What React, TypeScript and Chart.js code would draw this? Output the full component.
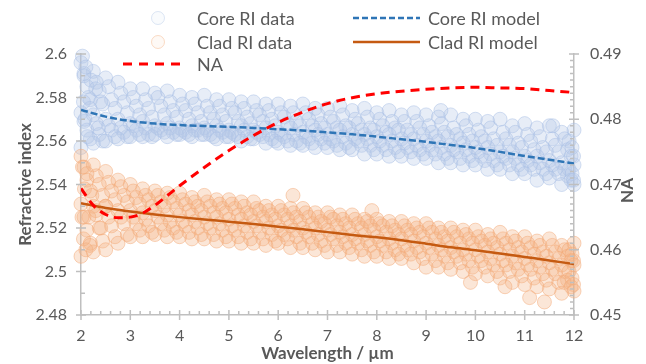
import React, { useEffect, useRef } from "react";
import { Chart, registerables } from "chart.js";
Chart.register(...registerables);

// Wavelength columns (µm) for scatter samples
const wl = [2, 2.25, 2.5, 2.75, 3, 3.25, 3.5, 3.75, 4, 4.25, 4.5, 4.75, 5, 5.25, 5.5, 5.75, 6, 6.25, 6.5, 6.75, 7, 7.25, 7.5, 7.75, 8, 8.25, 8.5, 8.75, 9, 9.25, 9.5, 9.75, 10, 10.25, 10.5, 10.75, 11, 11.25, 11.5, 11.75, 12];
const wlB = [2.12, 2.37, 2.62, 2.87, 3.12, 3.37, 3.62, 3.87, 4.12, 4.37, 4.62, 4.87, 5.12, 5.37, 5.62, 5.87, 6.12, 6.37, 6.62, 6.87, 7.12, 7.37, 7.62, 7.87, 8.12, 8.37, 8.62, 8.87, 9.12, 9.37, 9.62, 9.87, 10.12, 10.37, 10.62, 10.87, 11.12, 11.37, 11.62, 11.87, 11.96];
const wlC = [2.06, 2.31, 2.56, 2.81, 3.06, 3.31, 3.56, 3.81, 4.06, 4.31, 4.56, 4.81, 5.06, 5.31, 5.56, 5.81, 6.06, 6.31, 6.56, 6.81, 7.06, 7.31, 7.56, 7.81, 8.06, 8.31, 8.56, 8.81, 9.06, 9.31, 9.56, 9.81, 10.06, 10.31, 10.56, 10.81, 11.06, 11.31, 11.56, 11.81, 11.9];
const wlD = [2.19, 2.44, 2.69, 2.94, 3.19, 3.44, 3.69, 3.94, 4.19, 4.44, 4.69, 4.94, 5.19, 5.44, 5.69, 5.94, 6.19, 6.44, 6.69, 6.94, 7.19, 7.44, 7.69, 7.94, 8.19, 8.44, 8.69, 8.94, 9.19, 9.44, 9.69, 9.94, 10.19, 10.44, 10.69, 10.94, 11.19, 11.44, 11.69, 11.94, 11.99];

// Core RI data (sampled from the cloud, top row to bottom row)
const coreA = [2.596, 2.592, 2.589, 2.587, 2.584, 2.584, 2.582, 2.583, 2.581, 2.580, 2.581, 2.579, 2.579, 2.578, 2.578, 2.577, 2.577, 2.576, 2.577, 2.575, 2.575, 2.576, 2.574, 2.575, 2.573, 2.574, 2.572, 2.573, 2.572, 2.571, 2.572, 2.570, 2.570, 2.569, 2.570, 2.567, 2.568, 2.566, 2.567, 2.564, 2.565];
const coreAB = [2.591, 2.587, 2.585, 2.582, 2.580, 2.579, 2.580, 2.578, 2.577, 2.577, 2.576, 2.576, 2.575, 2.575, 2.574, 2.574, 2.573, 2.573, 2.573, 2.572, 2.571, 2.572, 2.570, 2.571, 2.570, 2.569, 2.569, 2.569, 2.567, 2.568, 2.566, 2.567, 2.565, 2.566, 2.564, 2.564, 2.563, 2.562, 2.561, 2.561, 2.560];
const coreB = [2.585, 2.583, 2.579, 2.578, 2.576, 2.575, 2.576, 2.574, 2.574, 2.573, 2.573, 2.572, 2.573, 2.571, 2.572, 2.570, 2.571, 2.569, 2.570, 2.568, 2.569, 2.567, 2.568, 2.566, 2.567, 2.566, 2.565, 2.566, 2.564, 2.564, 2.563, 2.563, 2.562, 2.561, 2.561, 2.559, 2.560, 2.557, 2.558, 2.556, 2.557];
const coreBC = [2.579, 2.577, 2.575, 2.573, 2.572, 2.571, 2.572, 2.571, 2.570, 2.569, 2.570, 2.569, 2.569, 2.568, 2.569, 2.567, 2.568, 2.567, 2.567, 2.566, 2.566, 2.566, 2.565, 2.565, 2.564, 2.565, 2.563, 2.563, 2.562, 2.562, 2.561, 2.560, 2.560, 2.558, 2.558, 2.557, 2.556, 2.555, 2.555, 2.553, 2.553];
const coreC = [2.573, 2.572, 2.570, 2.570, 2.568, 2.569, 2.567, 2.568, 2.566, 2.567, 2.566, 2.567, 2.565, 2.567, 2.565, 2.566, 2.564, 2.566, 2.564, 2.565, 2.563, 2.565, 2.563, 2.563, 2.562, 2.563, 2.561, 2.561, 2.560, 2.560, 2.558, 2.559, 2.557, 2.557, 2.555, 2.555, 2.553, 2.553, 2.551, 2.550, 2.549];
const coreCD = [2.569, 2.568, 2.567, 2.566, 2.567, 2.566, 2.566, 2.566, 2.565, 2.565, 2.565, 2.565, 2.564, 2.565, 2.564, 2.563, 2.563, 2.563, 2.562, 2.563, 2.561, 2.562, 2.561, 2.561, 2.560, 2.560, 2.559, 2.558, 2.558, 2.557, 2.556, 2.556, 2.555, 2.554, 2.553, 2.552, 2.551, 2.550, 2.549, 2.547, 2.547];
const coreD = [2.565, 2.563, 2.565, 2.564, 2.565, 2.563, 2.565, 2.564, 2.564, 2.565, 2.563, 2.564, 2.563, 2.562, 2.563, 2.561, 2.562, 2.560, 2.561, 2.561, 2.560, 2.559, 2.560, 2.558, 2.558, 2.557, 2.557, 2.556, 2.556, 2.554, 2.555, 2.553, 2.553, 2.551, 2.552, 2.549, 2.549, 2.547, 2.547, 2.544, 2.545];
const coreDE = [2.561, 2.560, 2.562, 2.562, 2.563, 2.562, 2.564, 2.563, 2.563, 2.563, 2.562, 2.562, 2.562, 2.561, 2.562, 2.560, 2.560, 2.559, 2.559, 2.559, 2.558, 2.557, 2.558, 2.556, 2.556, 2.555, 2.555, 2.554, 2.554, 2.552, 2.552, 2.551, 2.551, 2.549, 2.549, 2.547, 2.547, 2.545, 2.545, 2.542, 2.542];
const coreE = [2.557, 2.559, 2.560, 2.561, 2.562, 2.562, 2.563, 2.562, 2.563, 2.562, 2.563, 2.561, 2.562, 2.560, 2.561, 2.559, 2.559, 2.558, 2.558, 2.557, 2.557, 2.556, 2.556, 2.554, 2.554, 2.553, 2.553, 2.552, 2.552, 2.550, 2.550, 2.549, 2.549, 2.547, 2.547, 2.545, 2.545, 2.542, 2.543, 2.540, 2.540];
const coreExtraX = [2.03, 2.06, 2.1, 2.15, 2.2, 2.08, 2.13, 2.3, 2.4, 2.05, 2.18, 2.35, 9.3, 11.57];
const coreExtraY = [2.599, 2.590, 2.594, 2.580, 2.588, 2.570, 2.562, 2.584, 2.578, 2.578, 2.575, 2.566, 2.574, 2.567];

// Clad RI data (sampled from the cloud, top row to bottom row)
const cladA = [2.553, 2.549, 2.546, 2.542, 2.540, 2.538, 2.537, 2.536, 2.536, 2.534, 2.535, 2.533, 2.533, 2.532, 2.532, 2.530, 2.530, 2.529, 2.529, 2.527, 2.527, 2.526, 2.526, 2.524, 2.524, 2.523, 2.523, 2.522, 2.522, 2.520, 2.520, 2.519, 2.519, 2.517, 2.518, 2.516, 2.516, 2.514, 2.515, 2.512, 2.513];
const cladAB = [2.548, 2.544, 2.541, 2.539, 2.537, 2.535, 2.535, 2.534, 2.533, 2.532, 2.532, 2.531, 2.531, 2.530, 2.529, 2.528, 2.528, 2.527, 2.527, 2.525, 2.525, 2.524, 2.524, 2.523, 2.522, 2.521, 2.521, 2.520, 2.520, 2.518, 2.518, 2.517, 2.516, 2.515, 2.515, 2.514, 2.513, 2.512, 2.512, 2.510, 2.510];
const cladB = [2.542, 2.540, 2.537, 2.535, 2.534, 2.533, 2.532, 2.532, 2.531, 2.530, 2.530, 2.529, 2.529, 2.527, 2.528, 2.526, 2.526, 2.525, 2.525, 2.523, 2.524, 2.522, 2.522, 2.521, 2.521, 2.519, 2.519, 2.518, 2.518, 2.516, 2.516, 2.515, 2.514, 2.513, 2.513, 2.511, 2.511, 2.509, 2.509, 2.507, 2.508];
const cladBC = [2.537, 2.535, 2.533, 2.532, 2.531, 2.530, 2.530, 2.529, 2.528, 2.528, 2.527, 2.527, 2.526, 2.526, 2.525, 2.524, 2.524, 2.523, 2.522, 2.522, 2.521, 2.520, 2.520, 2.519, 2.518, 2.517, 2.517, 2.516, 2.515, 2.514, 2.513, 2.513, 2.512, 2.511, 2.510, 2.509, 2.508, 2.507, 2.506, 2.505, 2.505];
const cladC = [2.531, 2.530, 2.530, 2.528, 2.528, 2.527, 2.528, 2.526, 2.526, 2.526, 2.525, 2.525, 2.524, 2.524, 2.523, 2.523, 2.521, 2.521, 2.520, 2.520, 2.519, 2.518, 2.517, 2.517, 2.516, 2.515, 2.515, 2.514, 2.513, 2.512, 2.511, 2.510, 2.510, 2.509, 2.508, 2.507, 2.506, 2.505, 2.504, 2.503, 2.503];
const cladCD = [2.525, 2.526, 2.525, 2.525, 2.525, 2.524, 2.525, 2.523, 2.523, 2.523, 2.522, 2.522, 2.521, 2.521, 2.521, 2.520, 2.519, 2.519, 2.518, 2.517, 2.517, 2.516, 2.515, 2.514, 2.514, 2.513, 2.512, 2.511, 2.511, 2.510, 2.509, 2.508, 2.507, 2.506, 2.505, 2.504, 2.503, 2.502, 2.501, 2.500, 2.500];
const cladD = [2.519, 2.520, 2.521, 2.522, 2.522, 2.521, 2.522, 2.520, 2.521, 2.520, 2.520, 2.519, 2.519, 2.518, 2.518, 2.517, 2.517, 2.516, 2.516, 2.514, 2.515, 2.513, 2.513, 2.512, 2.512, 2.510, 2.510, 2.509, 2.508, 2.507, 2.507, 2.505, 2.505, 2.503, 2.503, 2.501, 2.501, 2.499, 2.499, 2.496, 2.497];
const cladDE = [2.513, 2.514, 2.516, 2.517, 2.519, 2.518, 2.519, 2.518, 2.518, 2.517, 2.517, 2.516, 2.516, 2.515, 2.515, 2.514, 2.515, 2.513, 2.513, 2.512, 2.512, 2.511, 2.510, 2.509, 2.509, 2.508, 2.508, 2.506, 2.505, 2.504, 2.504, 2.502, 2.502, 2.500, 2.500, 2.498, 2.497, 2.496, 2.495, 2.493, 2.494];
const cladE = [2.507, 2.509, 2.510, 2.513, 2.516, 2.516, 2.517, 2.516, 2.516, 2.515, 2.515, 2.514, 2.514, 2.513, 2.513, 2.512, 2.513, 2.511, 2.511, 2.510, 2.509, 2.509, 2.508, 2.507, 2.507, 2.506, 2.506, 2.504, 2.502, 2.502, 2.501, 2.500, 2.499, 2.498, 2.497, 2.495, 2.494, 2.493, 2.492, 2.490, 2.491];
const cladExtraX = [2.03, 2.07, 2.12, 2.16, 2.22, 2.05, 2.1, 2.3, 2.4, 2.02, 2.18, 2.5, 9.9, 10.6, 11.1, 11.4, 11.8, 6.3, 7.9];
const cladExtraY = [2.548, 2.538, 2.545, 2.525, 2.535, 2.515, 2.510, 2.528, 2.520, 2.525, 2.512, 2.530, 2.495, 2.493, 2.488, 2.486, 2.495, 2.535, 2.528];

// Model curves
const modelX = [2, 2.5, 3, 3.5, 4, 4.5, 5, 5.5, 6, 6.5, 7, 7.5, 8, 8.5, 9, 9.5, 10, 10.5, 11, 11.5, 12];
const coreModel = [2.5743, 2.5712, 2.5692, 2.5680, 2.5673, 2.5669, 2.5665, 2.5660, 2.5654, 2.5648, 2.5640, 2.5631, 2.5620, 2.5608, 2.5596, 2.5582, 2.5568, 2.5550, 2.5531, 2.5514, 2.5497];
const cladModel = [2.5314, 2.5292, 2.5276, 2.5262, 2.5250, 2.5239, 2.5229, 2.5218, 2.5206, 2.5194, 2.5181, 2.5168, 2.5157, 2.5144, 2.5128, 2.5111, 2.5098, 2.5083, 2.5067, 2.5051, 2.5034];

// Numerical aperture (right axis)
const naX = [2, 2.25, 2.5, 2.75, 3, 3.25, 3.5, 3.75, 4, 4.5, 5, 5.5, 6, 6.5, 7, 7.5, 8, 8.5, 9, 9.5, 10, 10.5, 11, 11.5, 12];
const naY = [0.4694, 0.4668, 0.4654, 0.4649, 0.4650, 0.4656, 0.4668, 0.4683, 0.4698, 0.4726, 0.4752, 0.4775, 0.4795, 0.4811, 0.4824, 0.4833, 0.4839, 0.4843, 0.4846, 0.4848, 0.4849, 0.4848, 0.4847, 0.4844, 0.4841];

const FONT = "Lato, 'Open Sans', sans-serif";
const GREY = "#595959";
const AXIS = "#bfbfbf";
const CORE_FILL = "rgba(180,199,231,0.32)";
const CORE_LINE = "rgba(170,192,230,0.5)";
const CLAD_FILL = "rgba(244,177,131,0.32)";
const CLAD_LINE = "rgba(244,170,120,0.5)";

function pts(xs: number[], ys: number[]) {
  return ys.map((y, i) => ({ x: xs[i], y }));
}

const axisDecor = {
  id: "axisDecor",
  afterDraw(chart: any) {
    const { ctx, chartArea: a, scales } = chart;
    const x = scales.x, y = scales.y, y2 = scales.y2;
    ctx.save();
    ctx.strokeStyle = AXIS;
    ctx.lineWidth = 1.5;
    ctx.beginPath();
    for (let k = 0; k <= 50; k++) {
      const px = x.getPixelForValue(2 + k * 0.2);
      if (k % 5 === 0) { ctx.moveTo(px, a.bottom - 5); ctx.lineTo(px, a.bottom + 5); }
      else { ctx.moveTo(px, a.bottom - 4); ctx.lineTo(px, a.bottom); }
    }
    for (let k = 0; k <= 12; k++) {
      const py = y.getPixelForValue(2.48 + k * 0.01);
      if (k % 2 === 0) { ctx.moveTo(a.left - 5, py); ctx.lineTo(a.left + 5, py); }
      else { ctx.moveTo(a.left, py); ctx.lineTo(a.left + 4, py); }
    }
    for (let k = 0; k <= 40; k++) {
      const py = y2.getPixelForValue(0.45 + k * 0.001);
      if (k % 10 === 0) { ctx.moveTo(a.right - 5, py); ctx.lineTo(a.right + 5, py); }
      else { ctx.moveTo(a.right - 4, py); ctx.lineTo(a.right, py); }
    }
    ctx.stroke();
    ctx.translate(628, (a.top + a.bottom) / 2 + 6);
    ctx.rotate(-Math.PI / 2);
    ctx.fillStyle = GREY;
    ctx.font = `bold 17px ${FONT}`;
    ctx.textAlign = "center";
    ctx.textBaseline = "middle";
    ctx.fillText("NA", 0, 0);
    ctx.restore();
  },
};

export default function App() {
  const ref = useRef<HTMLCanvasElement | null>(null);

  useEffect(() => {
    if (!ref.current) return;
    const coreData = [
      ...pts(wl, coreA), ...pts(wlC, coreAB), ...pts(wlB, coreB), ...pts(wlD, coreBC), ...pts(wl, coreC),
      ...pts(wlC, coreCD), ...pts(wlB, coreD), ...pts(wlD, coreDE), ...pts(wl, coreE), ...pts(coreExtraX, coreExtraY),
    ];
    const cladData = [
      ...pts(wl, cladA), ...pts(wlC, cladAB), ...pts(wlB, cladB), ...pts(wlD, cladBC), ...pts(wl, cladC),
      ...pts(wlC, cladCD), ...pts(wlB, cladD), ...pts(wlD, cladDE), ...pts(wl, cladE), ...pts(cladExtraX, cladExtraY),
    ];
    const tickFont = { family: FONT, size: 16 };
    const titleFont = { family: FONT, size: 17, weight: "bold" as const };
    const chart = new Chart(ref.current, {
      type: "scatter",
      data: {
        datasets: [
          {
            label: "NA", type: "line", data: pts(naX, naY), yAxisID: "y2",
            borderColor: "#ff0000", borderWidth: 3, borderDash: [9, 6], pointRadius: 0,
            fill: false, cubicInterpolationMode: "monotone", order: 0,
          } as any,
          {
            label: "Clad RI model", type: "line", data: pts(modelX, cladModel), yAxisID: "y",
            borderColor: "#c55a11", borderWidth: 2.5, pointRadius: 0, fill: false,
            cubicInterpolationMode: "monotone", order: 1,
          } as any,
          {
            label: "Core RI model", type: "line", data: pts(modelX, coreModel), yAxisID: "y",
            borderColor: "#2e75b6", borderWidth: 2.5, borderDash: [7, 3], pointRadius: 0, fill: false,
            cubicInterpolationMode: "monotone", order: 2,
          } as any,
          {
            label: "Clad RI data", data: cladData, yAxisID: "y", pointRadius: 7, pointBorderWidth: 1,
            backgroundColor: CLAD_FILL, borderColor: CLAD_LINE, order: 3, clip: false,
          } as any,
          {
            label: "Core RI data", data: coreData, yAxisID: "y", pointRadius: 7, pointBorderWidth: 1,
            backgroundColor: CORE_FILL, borderColor: CORE_LINE, order: 4, clip: false,
          } as any,
        ],
      },
      options: {
        animation: false,
        responsive: false,
        events: [],
        layout: { padding: { top: 54, left: 0, right: 0, bottom: 0 } },
        plugins: { legend: { display: false }, tooltip: { enabled: false } },
        scales: {
          x: {
            type: "linear", min: 2, max: 12,
            ticks: { stepSize: 1, color: GREY, font: tickFont, padding: 11, callback: (v: any) => String(Math.round(v)) },
            grid: { display: false, drawTicks: false },
            border: { color: AXIS, width: 1.5 },
            title: { display: true, text: "Wavelength / µm", color: GREY, font: titleFont, padding: { top: 0, bottom: 0 } },
            afterFit: (s: any) => { s.height = 49; },
          },
          y: {
            type: "linear", position: "left", min: 2.48, max: 2.6,
            ticks: { stepSize: 0.02, color: GREY, font: tickFont, padding: 14, callback: (v: any) => String(Math.round(v * 100) / 100) },
            grid: { display: false, drawTicks: false },
            border: { color: AXIS, width: 1.5 },
            title: { display: true, text: "Refractive index", color: GREY, font: titleFont, padding: { top: 15, bottom: 0 } },
            afterFit: (s: any) => { s.width = 81; },
          },
          y2: {
            type: "linear", position: "right", min: 0.45, max: 0.49,
            ticks: { stepSize: 0.01, color: GREY, font: tickFont, padding: 16, callback: (v: any) => String(Math.round(v * 100) / 100) },
            grid: { display: false, drawTicks: false },
            border: { color: AXIS, width: 1.5 },
            title: { display: false },
            afterFit: (s: any) => { s.width = 72; },
          },
        },
      } as any,
      plugins: [axisDecor],
    });
    return () => chart.destroy();
  }, []);

  const legendText: React.CSSProperties = {
    position: "absolute", fontFamily: FONT, fontSize: 18, color: GREY, lineHeight: "22px", whiteSpace: "nowrap",
  };

  return (
    <div style={{ position: "absolute", left: 0, top: 0, width: 646, height: 364, background: "#fff" }}>
      <canvas ref={ref} width={646} height={364} style={{ position: "absolute", left: 0, top: 0 }} />
      <svg width={646} height={80} style={{ position: "absolute", left: 0, top: 0, pointerEvents: "none" }}>
        <circle cx={158} cy={18} r={6.5} fill="rgba(180,199,231,0.08)" stroke="rgba(180,199,231,0.45)" strokeWidth={1} />
        <circle cx={158} cy={42} r={6.5} fill="rgba(244,177,131,0.08)" stroke="rgba(244,177,131,0.45)" strokeWidth={1} />
        <line x1={123} y1={64} x2={187} y2={64} stroke="#ff0000" strokeWidth={3} strokeDasharray="9 7" />
        <line x1={353} y1={18} x2={420} y2={18} stroke="#2e75b6" strokeWidth={2.5} strokeDasharray="6 3" />
        <line x1={353} y1={42} x2={420} y2={42} stroke="#c55a11" strokeWidth={2.5} />
      </svg>
      <div style={{ ...legendText, left: 197, top: 7 }}>Core RI data</div>
      <div style={{ ...legendText, left: 197, top: 31 }}>Clad RI data</div>
      <div style={{ ...legendText, left: 197, top: 53 }}>NA</div>
      <div style={{ ...legendText, left: 428, top: 7 }}>Core RI model</div>
      <div style={{ ...legendText, left: 428, top: 31 }}>Clad RI model</div>
    </div>
  );
}
